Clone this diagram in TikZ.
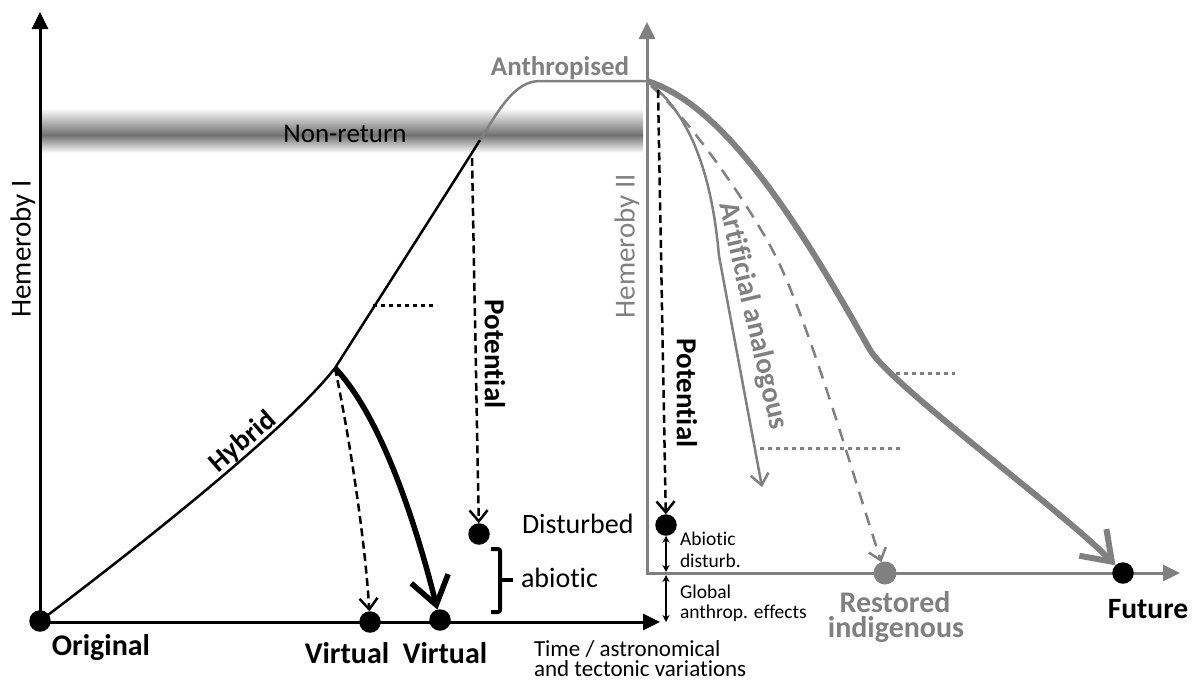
\documentclass[tikz,border=0pt]{standalone}
\usepackage{fontspec}
\setmainfont{Carlito}[Ligatures=NoCommon]
\usetikzlibrary{arrows.meta}
\definecolor{hgray}{RGB}{128,128,128}
\definecolor{bandgray}{RGB}{112,112,112}
\newcommand\pxfont[1]{\fontsize{#1}{#1}\selectfont}
\begin{document}
\begin{tikzpicture}[x=1pt,y=-1pt,
  every node/.style={inner sep=0pt, outer sep=0pt},
  axistips/.style={{Triangle[length=17pt,width=16pt]}-{Triangle[length=17pt,width=16pt]}},
  axisblack/.style={line width=3pt, axistips},
  axisgray/.style={line width=3pt, draw=hgray, axistips},
  trend/.style={line width=2.5pt},
  vbarb/.style={-{Straight Barb[length=11pt,width=18pt]}},
  bigbarb/.style={-{Straight Barb[length=27pt,width=38pt]}},
  blackdash/.style={line width=2.5pt, dash pattern=on 8pt off 4.5pt, vbarb},
  graydash/.style={draw=hgray, line width=2.5pt, dash pattern=on 13pt off 9pt, vbarb},
  blackdots/.style={line width=3pt, dash pattern=on 4pt off 4pt},
  graydots/.style={draw=hgray, line width=3pt, dash pattern=on 4pt off 4pt},
  twoway/.style={line width=1.5pt, {Stealth[length=7pt,width=7pt]}-{Stealth[length=7pt,width=7pt]}},
  dot/.style={circle, fill=black, minimum size=21.5pt},
  graydot/.style={circle, fill=hgray, minimum size=23pt},
  tag/.style={font=\pxfont{30}\bfseries},
  plain/.style={font=\pxfont{#1}},
]
\useasboundingbox (0,0) rectangle (1196,681);

% non-return band
\shade[top color=white, bottom color=bandgray] (42,108) rectangle (643,135);
\shade[top color=bandgray, bottom color=white] (42,135) rectangle (643,153);

% axes
\coordinate (Ltop) at (40,12);
\coordinate (L0) at (40,622);
\coordinate (Lright) at (660,622);
\coordinate (Rtop) at (647,22);
\coordinate (R0) at (647,573);
\coordinate (Rright) at (1180,573);
\draw[axisblack] (Ltop) -- (L0) -- (Lright);
\draw[axisgray] (Rtop) -- (R0) -- (Rright);

% states
\node[dot] (orig) at (40,621) {};
\node[dot] (virt1) at (370,622) {};
\node[dot] (virt2) at (440,620) {};
\node[dot] (dist) at (479,534) {};
\node[dot] (abio) at (666,525) {};
\node[graydot] (rest) at (885,573) {};
\node[dot] (fut) at (1123,573) {};

% key points of the trajectories
\coordinate (br) at (335,368);
\coordinate (nr) at (480,140);
\coordinate (flat) at (540,81);
\coordinate (anth) at (647,81);
\coordinate (bend) at (870,350);
\coordinate (kink) at (719,256);
\coordinate (dk) at (779,263);

% hemeroby I trajectory
\draw[trend] (orig.center) .. controls (130,553) and (286,431) .. (br)
  .. controls (370,313) and (455,180) .. (nr);
\draw[trend, hgray] (nr) .. controls (500,108) and (515,81) .. (flat) -- (anth);
\coordinate (hd1) at (373,305);
\coordinate (hd2) at (437,305);
\draw[blackdots] (hd1) -- (hd2);

\coordinate (pl) at (472,158);
\draw[blackdash] (pl) -- (dist);
\draw[blackdash] (br) .. controls (350,440) and (365,540) .. (virt1);
\draw[line width=5.5pt, bigbarb] (br) .. controls (380,415) and (415,520) .. (virt2);

% brace
\draw[line width=4pt, rounded corners=2pt] (491,549) -- (500,549) -- (500,612) -- (491,612);
\draw[line width=4pt] (500,580) -- (513,580);

% hemeroby II trajectories
\draw[hgray, line width=6pt, bigbarb] (anth) .. controls (725,105) and (800,225) .. (bend)
  .. controls (892,386) and (1059,508) .. (fut);
\coordinate (ds) at (651,86);
\draw[graydash] (ds) .. controls (690,118) and (758,218) .. (dk)
  .. controls (813,335) and (856,485) .. (rest);
\coordinate (aa) at (762,487);
\draw[hgray, line width=2.5pt, vbarb] (anth) .. controls (700,120) and (714,200) .. (kink) -- (aa);
\coordinate (pr) at (658,90);
\draw[blackdash] (pr) -- (abio);
\draw[graydots] (888,373) -- (955,373);
\draw[graydots] (760,448) -- (901,448);

% disturbance ranges
\coordinate (ax1) at (666,572);
\coordinate (ax2) at (666,575);
\coordinate (ax3) at (666,622);
\draw[twoway] (abio) -- (ax1);
\draw[twoway] (ax2) -- (ax3);

% labels
\node[plain=27, anchor=base] at (345,142) {Non-return};
\node[font=\pxfont{27}\bfseries, text=hgray, anchor=base] at (560,75) {Anthropised};
\node[plain=29, rotate=90] at (23,249) {Hemeroby I};
\node[plain=29, rotate=90, text=hgray] at (627,246) {Hemeroby II};
\node[font=\pxfont{28}\bfseries, rotate=41] at (243,442) {Hybrid};
\node[font=\pxfont{29}\bfseries, rotate=-90] at (495,354) {Potential};
\node[font=\pxfont{29}\bfseries, rotate=-90] at (687,393) {Potential};
\node[font=\pxfont{29}\bfseries, rotate=-77, text=hgray] at (753,316) {Artificial analogous};
\node[plain=28, anchor=base west] at (522,533) {Disturbed};
\node[plain=28, anchor=base west] at (521,587) {abiotic};
\node[plain=23, anchor=base west] at (534,656) {Time / astronomical};
\node[plain=23, anchor=base west] at (534,676) {and tectonic variations};
\node[plain=19.5, anchor=base west] at (680,545) {Abiotic};
\node[plain=19.5, anchor=base west] at (680,567) {disturb.};
\node[plain=19.5, anchor=base west] at (680,598) {Global};
\node[plain=19.5, anchor=base west] at (680,618) {anthrop. effects};
\node[tag, anchor=base] at (101,655) {Original};
\node[tag, anchor=base] at (347,663) {Virtual};
\node[tag, anchor=base] at (445,663) {Virtual};
\node[tag, text=hgray, anchor=base] at (895,612) {Restored};
\node[tag, text=hgray, anchor=base] at (896,637) {indigenous};
\node[font=\pxfont{29.5}\bfseries, anchor=base] at (1148,618) {Future};
\end{tikzpicture}
\end{document}
